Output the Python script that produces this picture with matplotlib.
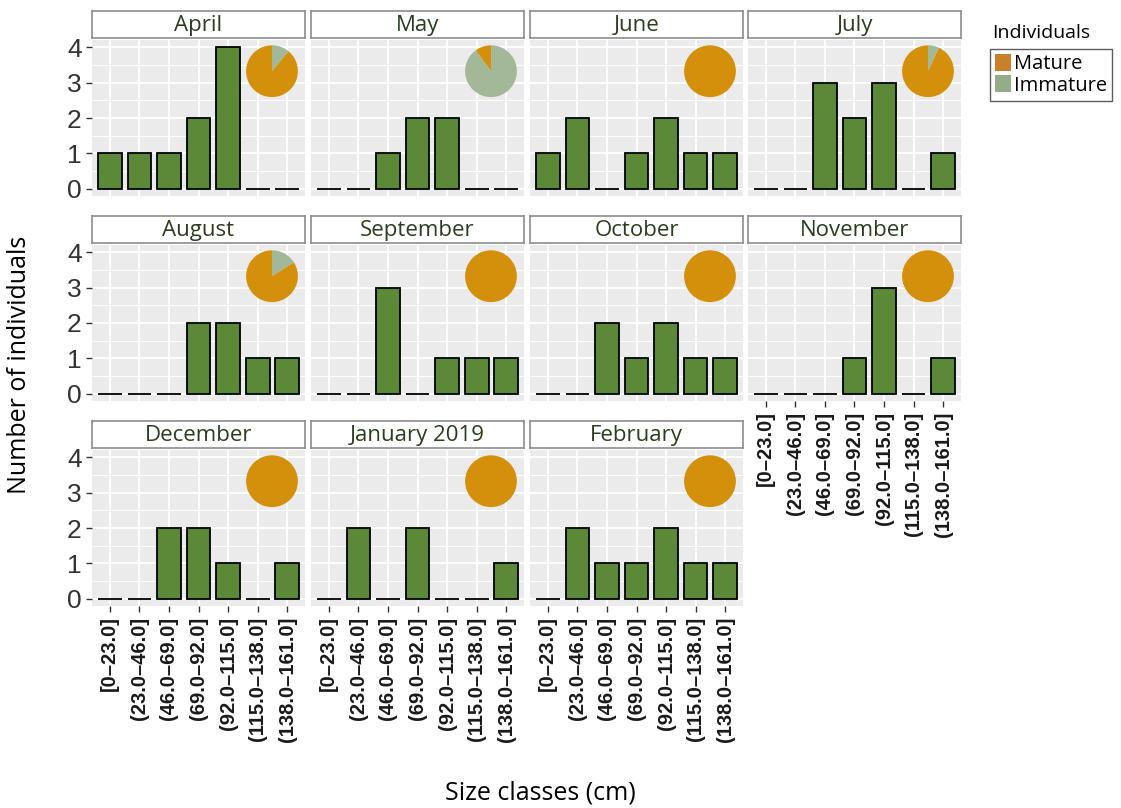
import matplotlib
matplotlib.use("Agg")
import matplotlib.pyplot as plt
from matplotlib.patches import Patch
from matplotlib.ticker import MultipleLocator

# size classes on the x axis
size_classes = ["[0–23.0]", "(23.0–46.0]", "(46.0–69.0]", "(69.0–92.0]",
                "(92.0–115.0]", "(115.0–138.0]", "(138.0–161.0]"]

months = ["April", "May", "June", "July", "August", "September", "October",
          "November", "December", "January 2019", "February"]

# number of individuals per size class, one list per month
counts = [
    [1, 1, 1, 2, 4, 0, 0],
    [0, 0, 1, 2, 2, 0, 0],
    [1, 2, 0, 1, 2, 1, 1],
    [0, 0, 3, 2, 3, 0, 1],
    [0, 0, 0, 2, 2, 1, 1],
    [0, 0, 3, 0, 1, 1, 1],
    [0, 0, 2, 1, 2, 1, 1],
    [0, 0, 0, 1, 3, 0, 1],
    [0, 0, 2, 2, 1, 0, 1],
    [0, 2, 0, 2, 0, 0, 1],
    [0, 2, 1, 1, 2, 1, 1],
]

# share of immature / mature individuals in the inset pies (estimated)
pie_immature = [0.11, 0.90, 0.0, 0.07, 0.16, 0.0, 0.0, 0.0, 0.0, 0.0, 0.0]
pie_mature = [0.89, 0.10, 1.0, 0.93, 0.84, 1.0, 1.0, 1.0, 1.0, 1.0, 1.0]

BAR_GREEN = "#5B8937"
MATURE = "#D4900A"
IMMATURE = "#A3B899"
PANEL_BG = "#EBEBEB"
STRIP_TXT = "#2B3D1E"

W, H = 1121, 808
fig = plt.figure(figsize=(W / 100, H / 100), dpi=100)


def px_axes(x0, y0, x1, y1):
    return fig.add_axes([x0 / W, 1 - y1 / H, (x1 - x0) / W, (y1 - y0) / H])


col_left = [92, 311, 530, 748]
panel_w = 213
row_top = [40, 245, 450]
panel_h = 156

x = list(range(1, len(size_classes) + 1))

for i, month in enumerate(months):
    r, c = divmod(i, 4)
    x0 = col_left[c]
    y0 = row_top[r]
    ax = px_axes(x0, y0, x0 + panel_w, y0 + panel_h)
    ax.set_facecolor(PANEL_BG)
    for s in ax.spines.values():
        s.set_visible(False)
    ax.bar(x, counts[i], width=0.8, color=BAR_GREEN, edgecolor="black",
           linewidth=1.3, zorder=3)
    ax.set_xlim(0.4, 7.6)
    ax.set_ylim(-0.2, 4.2)
    ax.set_yticks([0, 1, 2, 3, 4])
    ax.yaxis.set_minor_locator(MultipleLocator(0.5))
    ax.set_xticks(x)
    ax.grid(which="major", color="white", linewidth=1.4, zorder=0)
    ax.grid(which="minor", axis="y", color="white", linewidth=0.7, zorder=0)
    ax.tick_params(which="minor", length=0)
    ax.tick_params(which="major", length=4, width=1, color="#333333")

    # y labels only on the first column
    if c == 0:
        ax.set_yticklabels(["0", "1", "2", "3", "4"], fontsize=19,
                           family="Liberation Sans", color="#333333")
    else:
        ax.tick_params(axis="y", length=0, labelleft=False)

    # x labels on the bottom panel of each column
    bottom = (r == 2) or (r == 1 and c == 3)
    if bottom:
        ax.set_xticklabels(size_classes, rotation=90, fontsize=14.5,
                           family="Liberation Sans", fontweight="bold",
                           color="#1A1A1A")
    else:
        ax.tick_params(axis="x", length=0, labelbottom=False)

    # strip
    sax = px_axes(x0, y0 - 29, x0 + panel_w, y0 - 2)
    sax.set_xticks([])
    sax.set_yticks([])
    sax.set_facecolor("white")
    for s in sax.spines.values():
        s.set_color("#8C8C8C")
        s.set_linewidth(1.2)
    sax.text(0.5, 0.45, month, ha="center", va="center", fontsize=16,
             family="Open Sans", color=STRIP_TXT, transform=sax.transAxes)

    # pie inset: immature first, clockwise from 12 o'clock
    pax = ax.inset_axes([0.845 - 0.122, 0.80 - 0.166, 0.244, 0.332])
    vals, cols = [], []
    if pie_immature[i] > 0:
        vals.append(pie_immature[i])
        cols.append(IMMATURE)
    if pie_mature[i] > 0:
        vals.append(pie_mature[i])
        cols.append(MATURE)
    pax.pie(vals, colors=cols, startangle=90, counterclock=False,
            wedgeprops=dict(linewidth=0))
    pax.set_xlim(-1, 1)
    pax.set_ylim(-1, 1)
    pax.set_aspect("equal")
    pax.axis("off")

fig.text(20 / W, 1 - 365 / H, "Number of individuals", rotation=90,
         ha="center", va="center", fontsize=18, family="Open Sans",
         color="black")
fig.text(540 / W, 1 - 793 / H, "Size classes (cm)", ha="center",
         va="center", fontsize=18, family="Open Sans", color="black")

# legend
fig.text(992 / W, 1 - 33 / H, "Individuals", ha="left", va="center",
         fontsize=14, family="Open Sans", color="black")
handles = [Patch(facecolor="#C8802A", edgecolor="none", label="Mature"),
           Patch(facecolor="#94AC88", edgecolor="none", label="Immature")]
leg = fig.legend(handles=handles, loc="upper left",
                 bbox_to_anchor=(990 / W, 1 - 49 / H),
                 prop=dict(family="Open Sans", size=14.5),
                 frameon=True, fancybox=False, handlelength=0.8,
                 handleheight=0.9, handletextpad=0.15, labelspacing=0.05,
                 borderpad=0.25, borderaxespad=0)
leg.get_frame().set_edgecolor("#333333")
leg.get_frame().set_linewidth(1.0)

fig.savefig("out.png", dpi=100)
